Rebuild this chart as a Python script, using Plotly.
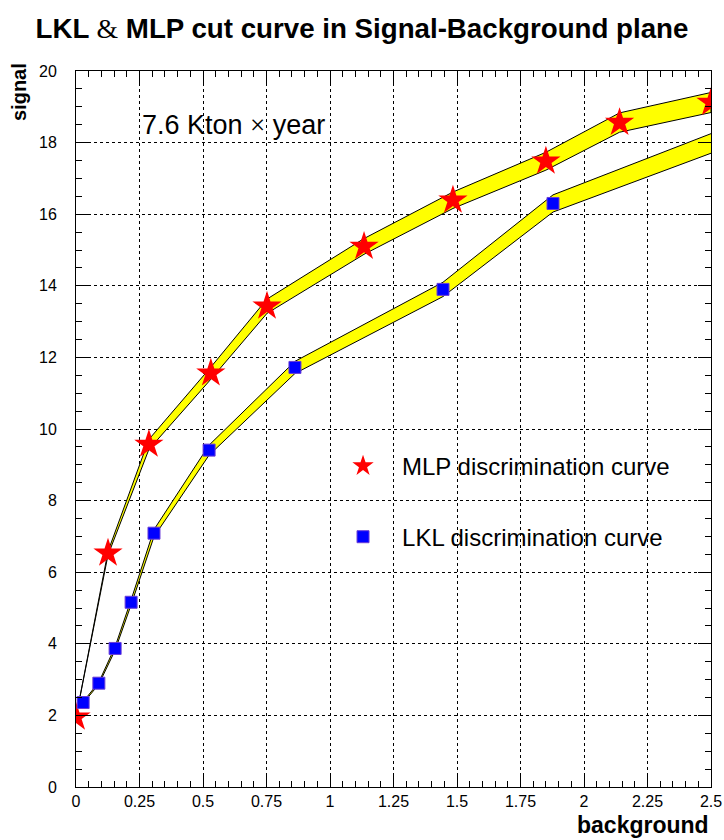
import plotly.graph_objects as go

# ---- data ----
mlp_bkg = [0.0, 0.126, 0.287, 0.531, 0.752, 1.134, 1.484, 1.85, 2.14, 2.5]
mlp_sig = [1.95, 6.53, 9.57, 11.56, 13.43, 15.1, 16.39, 17.48, 18.56, 19.12]
mlp_err = [0.0, 0.05, 0.14, 0.17, 0.2, 0.22, 0.23, 0.25, 0.27, 0.28]

lkl_bkg = [0.028, 0.09, 0.154, 0.217, 0.307, 0.524, 0.862, 1.445, 1.878, 2.62]
lkl_sig = [2.36, 2.9, 3.87, 5.16, 7.09, 9.41, 11.72, 13.9, 16.3, 18.3]
lkl_err = [0.02, 0.03, 0.05, 0.07, 0.1, 0.14, 0.17, 0.2, 0.24, 0.28]

x_ticks = [0, 0.25, 0.5, 0.75, 1, 1.25, 1.5, 1.75, 2, 2.25, 2.5]
x_tick_text = ["0", "0.25", "0.5", "0.75", "1", "1.25", "1.5", "1.75", "2", "2.25", "2.5"]
y_ticks = [0, 2, 4, 6, 8, 10, 12, 14, 16, 18, 20]

FONT = "Liberation Sans, Arial, Helvetica, sans-serif"


def band(xs, ys, es):
    bx = list(xs) + list(xs[::-1])
    by = [y + e for y, e in zip(ys, es)] + [y - e for y, e in zip(ys[::-1], es[::-1])]
    return bx, by


fig = go.Figure()

for xs, ys, es in [(mlp_bkg, mlp_sig, mlp_err), (lkl_bkg, lkl_sig, lkl_err)]:
    bx, by = band(xs, ys, es)
    fig.add_trace(go.Scatter(x=bx, y=by, mode="lines", fill="toself",
                             fillcolor="#ffff00", line=dict(color="black", width=1),
                             showlegend=False, hoverinfo="skip"))

fig.add_trace(go.Scatter(x=mlp_bkg, y=mlp_sig, mode="markers",
                         marker=dict(symbol="star", size=22, color="#ff0000", line=dict(width=0)),
                         name="MLP discrimination curve", legend="legend"))
fig.add_trace(go.Scatter(x=lkl_bkg, y=lkl_sig, mode="markers",
                         marker=dict(symbol="square", size=12, color="#0000ff",
                                     line=dict(width=1, color="#6a3dd8")),
                         name="LKL discrimination curve", legend="legend2"))

axis_common = dict(
    showline=True, linecolor="black", linewidth=1, mirror="allticks",
    ticks="inside", ticklen=13, tickcolor="black", tickwidth=1,
    showgrid=True, gridcolor="black", gridwidth=1, griddash="dot",
    zeroline=False, automargin=False,
    tickfont=dict(family=FONT, size=16, color="black"),
)

fig.update_xaxes(range=[0, 2.5], tickvals=x_ticks, ticktext=x_tick_text,
                 minor=dict(dtick=0.05, ticks="inside", ticklen=6, tickcolor="black", showgrid=False),
                 ticklabelstandoff=0, **axis_common)
fig.update_yaxes(range=[0, 20], tickvals=y_ticks,
                 minor=dict(dtick=0.5, ticks="inside", ticklen=6, tickcolor="black", showgrid=False),
                 ticklabelstandoff=15, **axis_common)

legend_common = dict(xanchor="left", yanchor="middle", bgcolor="rgba(0,0,0,0)",
                     font=dict(family=FONT, size=24, color="black"),
                     itemsizing="trace", itemwidth=68)

fig.update_layout(
    width=724, height=840,
    margin=dict(l=76, r=13, t=71, b=53),
    paper_bgcolor="white", plot_bgcolor="white",
    font=dict(family=FONT, color="black"),
    title=dict(
        text="<b>LKL <span style='font-family:Liberation Serif;font-weight:normal'>&amp;</span> MLP cut curve in Signal-Background plane</b>",
        x=0.5, xref="container", xanchor="center", y=1 - 28 / 840, yref="container", yanchor="middle",
        font=dict(family=FONT, size=27.7, color="black")),
    legend=dict(x=0.3906, y=0.448, **legend_common),
    legend2=dict(x=0.3906, y=0.349, **legend_common),
    annotations=[
        dict(text="7.6 Kton <span style='font-family:Liberation Serif'>×</span> year",
             x=0.25, y=18.5, xref="x", yref="y", xanchor="left", yanchor="middle",
             showarrow=False, font=dict(family=FONT, size=27, color="black")),
        dict(text="<b>background</b>", x=1, y=-38 / 716, xref="paper", yref="paper",
             xanchor="right", yanchor="middle", showarrow=False,
             font=dict(family=FONT, size=23, color="black")),
        dict(text="<b>signal</b>", x=-57 / 635, y=1 + 10 / 716, xref="paper", yref="paper",
             xanchor="center", yanchor="top", textangle=-90, showarrow=False,
             font=dict(family=FONT, size=20, color="black")),
    ],
)

fig.write_html("out.html")
